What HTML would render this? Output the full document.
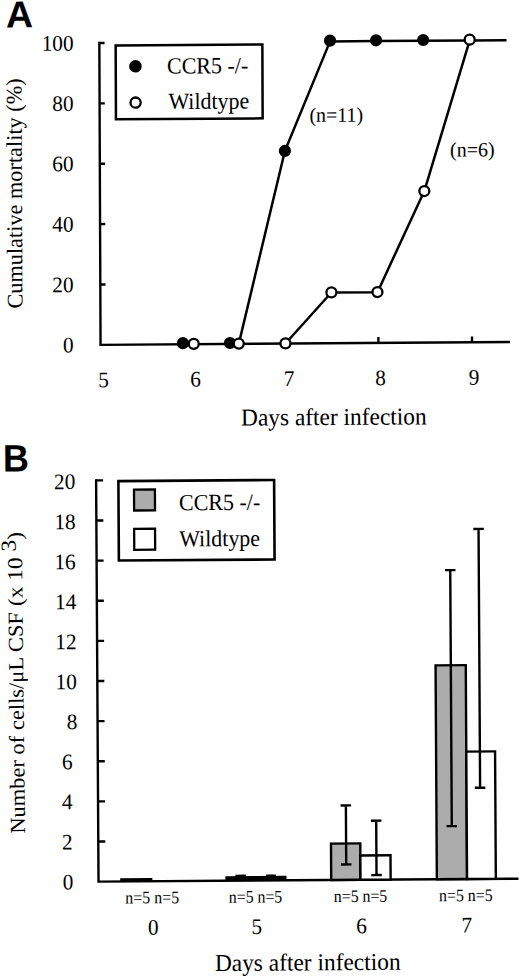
<!DOCTYPE html>
<html><head><meta charset="utf-8">
<style>
html,body{margin:0;padding:0;background:#fff;width:520px;height:977px;overflow:hidden}
svg{display:block}
.s{font-family:"Liberation Serif",serif;fill:#000}
.b{font-family:"Liberation Sans",sans-serif;font-weight:bold;fill:#000}
</style></head><body>
<svg width="520" height="977" viewBox="0 0 520 977">
<g transform="matrix(1 -0.007 0.004 1 -0.8 2.1)">
<text class="b" font-size="37.5" transform="translate(6.598 25.546) scale(1 1)">A</text>
<path d="M99.98 40.4 L99.98 343.43 L509.5 343.43" stroke="#000" stroke-width="2.4" fill="none" stroke-linejoin="miter"/>
<path d="M99.98 41.6 L105.18 41.6 M99.98 101.966 L105.18 101.966 M99.98 162.332 L105.18 162.332 M99.98 222.698 L105.18 222.698 M99.98 283.064 L105.18 283.064" stroke="#000" stroke-width="2.4" fill="none"/>
<path d="M377.84 343.43 L377.84 337.65 M471.44 343.43 L471.44 337.65" stroke="#000" stroke-width="2.4" fill="none"/>
<text class="s" font-size="21.3" text-anchor="end" transform="translate(74.204 49.019) scale(1 1.045)">100</text>
<text class="s" font-size="21.3" text-anchor="end" transform="translate(73.963 109.318) scale(1 1.045)">80</text>
<text class="s" font-size="21.3" text-anchor="end" transform="translate(73.722 169.616) scale(1 1.045)">60</text>
<text class="s" font-size="21.3" text-anchor="end" transform="translate(73.48 230.114) scale(1 1.045)">40</text>
<text class="s" font-size="21.3" text-anchor="end" transform="translate(73.238 290.613) scale(1 1.045)">20</text>
<text class="s" font-size="21.3" text-anchor="end" transform="translate(72.997 350.811) scale(1 1.045)">0</text>
<text class="s" font-size="21.3" text-anchor="middle" transform="translate(102.857 385.816) scale(1 1.045)">5</text>
<text class="s" font-size="21.3" text-anchor="middle" transform="translate(194.857 385.816) scale(1 1.045)">6</text>
<text class="s" font-size="21.3" text-anchor="middle" transform="translate(288.257 385.816) scale(1 1.045)">7</text>
<text class="s" font-size="21.3" text-anchor="middle" transform="translate(379.757 385.816) scale(1 1.045)">8</text>
<text class="s" font-size="21.3" text-anchor="middle" transform="translate(473.257 385.816) scale(1 1.045)">9</text>
<text class="s" font-size="23.4" transform="translate(240.099 425.181) scale(1 1.035)">Days after infection</text>
<text class="s" font-size="22.3" transform="translate(21.973 306.654) rotate(-90) scale(1 1)">Cumulative mortality (%)</text>
<rect x="116.28" y="44.23" width="146.7" height="73.85" fill="none" stroke="#000" stroke-width="2.5"/>
<text class="s" font-size="22" transform="translate(167.509 72.673) scale(1 1.05)">CCR5 -/-</text>
<text class="s" font-size="22" transform="translate(168.767 108.181) scale(1 1.05)">Wildtype</text>
<text class="s" font-size="20" transform="translate(309.712 121.968) scale(1 1.02)">(n=11)</text>
<text class="s" font-size="20" transform="translate(450.169 157.651) scale(1 1.02)">(n=6)</text>
<circle cx="135.939" cy="65.152" r="6.3" fill="#000"/>
<circle cx="135.994" cy="101.452" r="5.1" fill="#fff" stroke="#000" stroke-width="2.3"/>
<path d="M238.189 343.43 L285.082 150.862 L330.666 41.6 L376.717 41.6 L423.798 41.6 L470.317 41.6 L507.195 41.6" stroke="#000" stroke-width="2.5" fill="none" stroke-linejoin="round"/>
<path d="M284.895 343.43 L331.04 292.723 L377.091 292.723 L424.359 191.911 L470.317 41.6" stroke="#000" stroke-width="2.5" fill="none" stroke-linejoin="round"/>
<circle cx="182.31" cy="342.374" r="6.1" fill="#000"/>
<circle cx="229.39" cy="342.525" r="6.1" fill="#000"/>
<circle cx="285.082" cy="150.862" r="6.1" fill="#000"/>
<circle cx="330.666" cy="40.845" r="6.1" fill="#000"/>
<circle cx="376.717" cy="40.845" r="6.1" fill="#000"/>
<circle cx="423.798" cy="40.845" r="6.1" fill="#000"/>
<circle cx="193.167" cy="343.128" r="5" fill="#fff" stroke="#000" stroke-width="2.3"/>
<circle cx="238.189" cy="343.128" r="5" fill="#fff" stroke="#000" stroke-width="2.3"/>
<circle cx="284.895" cy="343.279" r="5" fill="#fff" stroke="#000" stroke-width="2.3"/>
<circle cx="331.04" cy="292.572" r="5" fill="#fff" stroke="#000" stroke-width="2.3"/>
<circle cx="377.091" cy="292.572" r="5" fill="#fff" stroke="#000" stroke-width="2.3"/>
<circle cx="424.359" cy="191.911" r="5" fill="#fff" stroke="#000" stroke-width="2.3"/>
<circle cx="470.317" cy="40.845" r="5" fill="#fff" stroke="#000" stroke-width="2.3"/>
</g>
<g transform="matrix(1 -0.007 0.006 1 -4.13 2.08)">
<text class="b" font-size="36" transform="translate(4.426 469.353) scale(1 1.06)">B</text>
<path d="M97.37 477.8 L97.37 880.23 L517.35 880.23" stroke="#000" stroke-width="2.4" fill="none" stroke-linejoin="miter"/>
<path d="M97.37 479 L104.37 479 M97.37 519.123 L104.37 519.123 M97.37 559.246 L104.37 559.246 M97.37 599.369 L104.37 599.369 M97.37 639.492 L104.37 639.492 M97.37 679.615 L104.37 679.615 M97.37 719.738 L104.37 719.738 M97.37 759.861 L104.37 759.861 M97.37 799.984 L104.37 799.984 M97.37 840.107 L104.37 840.107" stroke="#000" stroke-width="2.4" fill="none"/>
<text class="s" font-size="21.3" text-anchor="end" transform="translate(76.61 487.495) scale(1 1.045)">20</text>
<text class="s" font-size="21.3" text-anchor="end" transform="translate(76.654 527.525) scale(1 1.045)">18</text>
<text class="s" font-size="21.3" text-anchor="end" transform="translate(76.398 567.553) scale(1 1.045)">16</text>
<text class="s" font-size="21.3" text-anchor="end" transform="translate(76.841 607.586) scale(1 1.045)">14</text>
<text class="s" font-size="21.3" text-anchor="end" transform="translate(76.885 647.617) scale(1 1.045)">12</text>
<text class="s" font-size="21.3" text-anchor="end" transform="translate(76.829 687.646) scale(1 1.045)">10</text>
<text class="s" font-size="21.3" text-anchor="end" transform="translate(77.273 727.68) scale(1 1.045)">8</text>
<text class="s" font-size="21.3" text-anchor="end" transform="translate(72.217 767.672) scale(1 1.045)">6</text>
<text class="s" font-size="21.3" text-anchor="end" transform="translate(71.961 807.7) scale(1 1.045)">4</text>
<text class="s" font-size="21.3" text-anchor="end" transform="translate(71.705 847.728) scale(1 1.045)">2</text>
<text class="s" font-size="21.3" text-anchor="end" transform="translate(72.148 887.761) scale(1 1.045)">0</text>
<text class="s" font-size="21.4" transform="translate(24.207 831.702) rotate(-90.3) scale(1.05 1)">Number of cells/μL CSF</text>
<text class="s" font-size="21.4" transform="translate(23.164 604.094) rotate(-90.3) scale(1.095 1)">(x 10<tspan dy="-6.3"> 3</tspan><tspan dy="6.3">)</tspan></text>
<rect x="119.65" y="479.85" width="155.7" height="79.45" fill="none" stroke="#000" stroke-width="2.6"/>
<rect x="135.2" y="488.48" width="20.9" height="20.9" fill="#acacac" stroke="#000" stroke-width="2.3"/>
<rect x="135.1" y="527.78" width="20.9" height="20.9" fill="#fff" stroke="#000" stroke-width="2.3"/>
<text class="s" font-size="22" transform="translate(180.069 509.471) scale(1 1.05)">CCR5 -/-</text>
<text class="s" font-size="22" transform="translate(180.038 545.57) scale(1 1.05)">Wildtype</text>
<rect x="119.05" y="877.07" width="32.2" height="3.16" fill="#000"/>
<rect x="224.27" y="875.67" width="61.1" height="4.56" fill="#000"/>
<rect x="234.27" y="874.25" width="10.4" height="2.25" fill="#000"/>
<rect x="265.07" y="874.38" width="9.6" height="2.12" fill="#000"/>
<rect x="330.04" y="843.84" width="29.3" height="36.39" fill="#acacac" stroke="#000" stroke-width="2.4"/>
<rect x="359.34" y="855.97" width="30.14" height="24.26" fill="#fff" stroke="#000" stroke-width="2.4"/>
<rect x="435.7" y="666.3" width="30.2" height="213.93" fill="#acacac" stroke="#000" stroke-width="2.4"/>
<rect x="465.9" y="752.75" width="28.78" height="127.48" fill="#fff" stroke="#000" stroke-width="2.4"/>
<path d="M345.17 805.75 L345.17 864.75 M339.92 805.75 L350.42 805.75 M339.92 864.75 L350.42 864.75" stroke="#000" stroke-width="2.4" fill="none"/>
<path d="M375.4 821.2 L375.4 875.6 M370.15 821.2 L380.65 821.2 M370.15 875.6 L380.65 875.6" stroke="#000" stroke-width="2.4" fill="none"/>
<path d="M450.95 571.2 L450.95 827.2 M445.7 571.2 L456.2 571.2 M445.7 827.2 L456.2 827.2" stroke="#000" stroke-width="2.4" fill="none"/>
<path d="M479.5 530.2 L479.5 789.06 M474.25 530.2 L484.75 530.2 M474.25 789.06 L484.75 789.06" stroke="#000" stroke-width="2.4" fill="none"/>
<text class="s" font-size="15.9" transform="translate(124.056 902.25) scale(1 1.1)">n=5</text>
<text class="s" font-size="15.9" transform="translate(152.956 902.25) scale(1 1.1)">n=5</text>
<text class="s" font-size="15.9" transform="translate(227.456 902.25) scale(1 1.1)">n=5</text>
<text class="s" font-size="15.9" transform="translate(256.156 902.25) scale(1 1.1)">n=5</text>
<text class="s" font-size="15.9" transform="translate(332.456 902.25) scale(1 1.1)">n=5</text>
<text class="s" font-size="15.9" transform="translate(361.156 902.25) scale(1 1.1)">n=5</text>
<text class="s" font-size="15.9" transform="translate(437.806 902.25) scale(1 1.1)">n=5</text>
<text class="s" font-size="15.9" transform="translate(466.556 902.25) scale(1 1.1)">n=5</text>
<text class="s" font-size="21.3" text-anchor="middle" transform="translate(151.755 933.654) scale(1 1.045)">0</text>
<text class="s" font-size="21.3" text-anchor="middle" transform="translate(255.455 933.654) scale(1 1.045)">5</text>
<text class="s" font-size="21.3" text-anchor="middle" transform="translate(360.155 933.654) scale(1 1.045)">6</text>
<text class="s" font-size="21.3" text-anchor="middle" transform="translate(465.355 933.654) scale(1 1.045)">7</text>
<text class="s" font-size="23.4" transform="translate(213.219 970.419) scale(1 1.035)">Days after infection</text>
</g>
</svg>
</body></html>
